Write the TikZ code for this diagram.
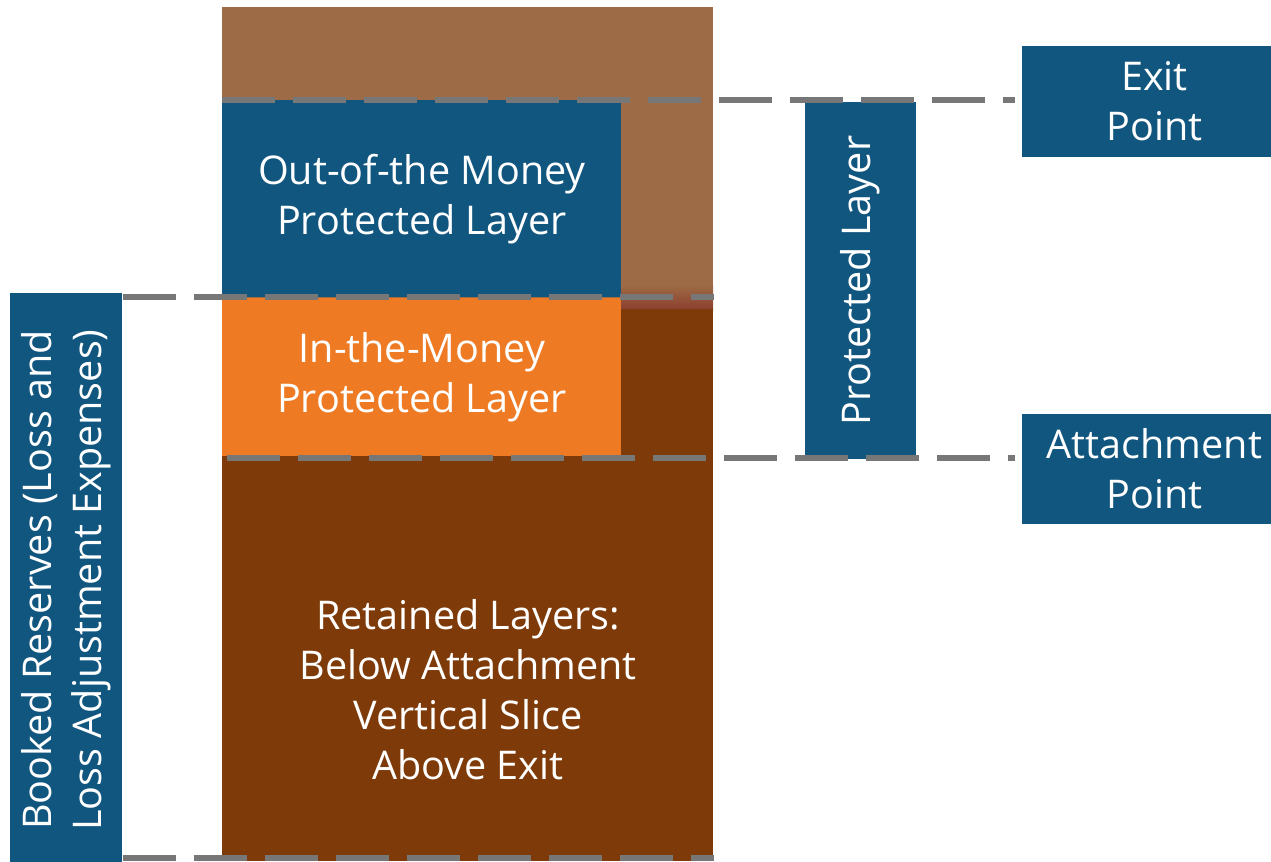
\documentclass[tikz,border=0pt]{standalone}
\usepackage{fontspec}
\setmainfont{Open Sans}
\usetikzlibrary{positioning}
\definecolor{cblue}{HTML}{11567F}
\definecolor{corange}{HTML}{EE7B24}
\definecolor{clight}{HTML}{9D6B45}
\definecolor{cdark}{HTML}{7E3B09}
\definecolor{cred}{HTML}{8C3D2E}
\definecolor{cgrey}{HTML}{777777}
\tikzset{
  every picture/.style={font=\fontsize{22.5}{28.5}\selectfont},
  layer/.style={fill=#1, text=white, align=center, inner sep=0pt},
  layer/.default=cblue,
  tag/.style={layer=cblue},
  guide/.style={draw=cgrey, line width=3.4pt, dash pattern=on 1.06cm off 0.36cm},
}

\begin{document}
\begin{tikzpicture}
  \clip (0,0) rectangle (25.42,-17.22);
  % the column
  \node[layer=clight, minimum width=9.82cm, minimum height=6.1cm, anchor=north west] (top) at (4.44,-0.14) {};
  \shade[top color=clight, bottom color=cred] (12.42,-5.7) rectangle (14.26,-6.2);
  \node[layer=cdark, minimum width=9.82cm, minimum height=11.04cm, anchor=north west] (base) at (4.44,-6.18) {};
  \node[layer=cblue, minimum width=7.98cm, minimum height=3.94cm, anchor=north west] (oom) at (4.44,-2.0) {Out-of-the Money\\Protected Layer};
  \node[layer=corange, minimum width=7.98cm, minimum height=3.16cm, below=0pt of oom] (itm) {In-the-Money\\Protected Layer};
  \node[text=white, align=center] (ret) at (9.36,-13.8) {Retained Layers:\\Below Attachment\\Vertical Slice\\Above Exit};
  % labels
  \node[tag, rotate=90, minimum width=7.14cm, minimum height=2.22cm] (prot) at (17.21,-5.61) {Protected Layer};
  \node[tag, minimum width=5.28cm, minimum height=2.22cm, anchor=west] (exit) at (20.44,-2.03) {Exit\\Point};
  \node[tag, minimum width=5.28cm, minimum height=2.2cm, anchor=west] (attach) at (20.44,-9.38) {Attachment\\Point};
  \node[tag, rotate=90, minimum width=11.5cm, minimum height=2.24cm, anchor=north] (booked) at (0.2,-11.6) {Booked Reserves (Loss and\\Loss Adjustment Expenses)};
  % levels
  \coordinate (exitlvl) at (0,-2.0);
  \coordinate (itmlvl) at (0,-5.94);
  \coordinate (attlvl) at (0,-9.16);
  \coordinate (floor) at (0,-17.16);
  \draw[guide, shorten >=0.14cm] (exitlvl -| oom.west) -- (exitlvl -| exit.west);
  \draw[guide] (itmlvl -| booked.south) -- (itmlvl -| base.east);
  \draw[guide, shorten <=0.1cm, shorten >=0.14cm] (attlvl -| itm.west) -- (attlvl -| attach.west);
  \draw[guide] (floor -| booked.south) -- (floor -| base.east);
\end{tikzpicture}
\end{document}
